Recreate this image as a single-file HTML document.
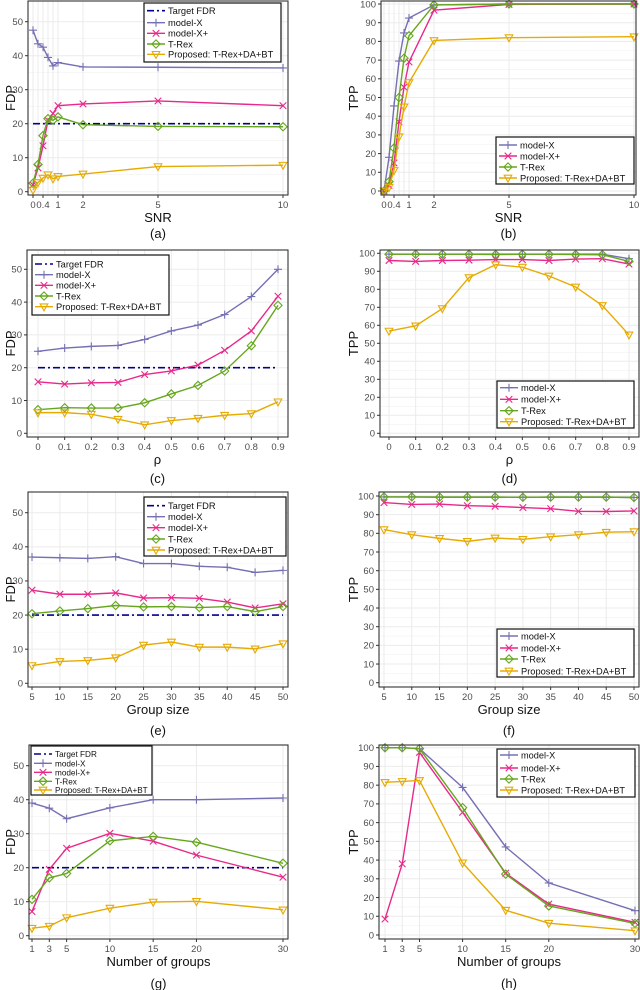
<!DOCTYPE html>
<html><head><meta charset="utf-8">
<style>
html,body{margin:0;padding:0;background:#fff;}
svg{display:block;font-family:"Liberation Sans",sans-serif;}
</style></head>
<body>
<svg id="fig" width="640" height="990" viewBox="0 0 640 990" xmlns="http://www.w3.org/2000/svg"></svg>
<script>
// ---- data ----
const snr = [0, 0.2, 0.4, 0.6, 0.8, 1, 2, 5, 10];
const aModelX = [47.5, 43.5, 42.5, 39.5, 37, 38, 36.7, 36.6, 36.4];
const aModelXp = [2, 7, 13.5, 21, 23, 25.3, 25.8, 26.7, 25.3];
const aTRex = [2.5, 8, 16.5, 21.5, 21, 22, 19.7, 19.2, 19.1];
const aProp = [0.5, 2.7, 4, 5, 3.8, 4.5, 5.2, 7.4, 7.8];
const bModelX = [0, 18, 45.5, 69.5, 84.5, 92.5, 99.5, 100, 100];
const bModelXp = [0, 3, 15, 37, 55.5, 69, 96.7, 99.8, 100];
const bTRex = [0, 5, 23, 50, 71, 83, 99.5, 100, 100];
const bProp = [0, 2, 11, 29, 45, 58, 80.5, 82, 82.5];
const rho = [0, 0.1, 0.2, 0.3, 0.4, 0.5, 0.6, 0.7, 0.8, 0.9];
const cModelX = [25, 26, 26.5, 26.8, 28.6, 31.2, 33, 36.2, 41.7, 50];
const cModelXp = [15.7, 15, 15.4, 15.5, 17.9, 19, 20.8, 25.3, 31.2, 41.8];
const cTRex = [7.2, 7.8, 7.7, 7.7, 9.3, 12, 14.6, 19, 26.7, 39];
const cProp = [6.3, 6.3, 5.8, 4.3, 2.6, 3.9, 4.6, 5.5, 6, 9.6];
const dModelX = [99.5, 99.5, 99.5, 99.5, 99.5, 99.5, 99.5, 99.5, 99.5, 97];
const dModelXp = [96, 95.5, 96, 96.2, 96.5, 96.5, 96, 96.8, 97, 94];
const dTRex = [99.5, 99.5, 99.5, 99.5, 99.3, 99.5, 99.5, 99.3, 99.2, 95.5];
const dProp = [56.8, 59.7, 69.3, 86.5, 93.7, 92.3, 87.4, 81.3, 71, 54.7];
const gsize = [5, 10, 15, 20, 25, 30, 35, 40, 45, 50];
const eModelX = [37, 36.8, 36.6, 37.1, 35.1, 35.1, 34.3, 34, 32.5, 33.1];
const eModelXp = [27.3, 26.1, 26.1, 26.5, 25, 25.1, 24.9, 23.8, 22.1, 23.3];
const eTRex = [20.4, 21.2, 21.9, 22.8, 22.4, 22.5, 22.2, 22.5, 21, 22.5];
const eProp = [5.2, 6.4, 6.7, 7.5, 11.2, 12.1, 10.6, 10.6, 10.1, 11.6];
const fModelX = [99.5, 99.5, 99.4, 99.4, 99.4, 99.3, 99.4, 99.4, 99.4, 99.2];
const fModelXp = [96.5, 95.5, 95.7, 94.8, 94.5, 93.8, 93.2, 91.8, 91.7, 92];
const fTRex = [99.5, 99.5, 99.4, 99.4, 99.4, 99.3, 99.4, 99.4, 99.4, 99.2];
const fProp = [82, 79.3, 77.3, 75.7, 77.5, 76.8, 78.2, 79.3, 80.6, 80.9];
const ngroups = [1, 3, 5, 10, 15, 20, 30];
const gModelX = [39, 37.5, 34.4, 37.6, 40, 40, 40.5];
const gModelXp = [7.1, 19.5, 25.7, 30.1, 27.8, 23.7, 17.2];
const gTRex = [10.7, 17, 18.3, 27.9, 29.2, 27.5, 21.3];
const gProp = [2.2, 2.8, 5.3, 8.1, 9.9, 10.1, 7.6];
const hModelX = [100, 100, 99.5, 78.8, 47, 27.8, 13];
const hModelXp = [8.5, 38, 97.5, 65.5, 33, 16.5, 6.8];
const hTRex = [100, 100, 99.5, 68, 32.5, 15.5, 6.2];
const hProp = [81.5, 82, 82.5, 38.5, 13.2, 6.3, 2.3];
const targetFDR = 20;
const fdpTicks = [0, 10, 20, 30, 40, 50];
const tppTicks = [0, 10, 20, 30, 40, 50, 60, 70, 80, 90, 100];
const snrTicks = [0, 0.4, 1, 2, 5, 10];
const snrTickLabels = ["0", "0.4", "1", "2", "5", "10"];
const rhoTicks = [0, 0.1, 0.2, 0.3, 0.4, 0.5, 0.6, 0.7, 0.8, 0.9];
const gsizeTicks = [5, 10, 15, 20, 25, 30, 35, 40, 45, 50];
const ngroupTicks = [1, 3, 5, 10, 15, 20, 30];
const seriesNames = ["model-X", "model-X+", "T-Rex", "Proposed: T-Rex+DA+BT"];

const COL = ["#7570b3", "#e7298a", "#66a61e", "#e6ab02"];
const NAVY = "#00008b";
const NS = "http://www.w3.org/2000/svg";
const svg = document.getElementById("fig");
function mk(tag, attrs, parent) {
  const e = document.createElementNS(NS, tag);
  for (const k in attrs) e.setAttribute(k, attrs[k]);
  (parent || svg).appendChild(e);
  return e;
}

const panels = [
  {id:"a", box:[28,1,288,195], xm:[0,33,10,283], ym:[0,191.7,50,21.7], x:snr, s:[aModelX,aModelXp,aTRex,aProp], xt:snrTicks, xtl:snrTickLabels, yt:fdpTicks, xTitle:"SNR", yTitle:"FDP", yTx:15, cap:233, target:true,
   leg:{l:144,t:3,r:281,b:62,rows:[10.7,22.7,33.3,44,54.3],fs:9.3}},
  {id:"b", box:[381,1,636,195], xm:[0,384,10,634], ym:[0,191,100,4], x:snr, s:[bModelX,bModelXp,bTRex,bProp], xt:snrTicks, xtl:snrTickLabels, yt:tppTicks, xTitle:"SNR", yTitle:"TPP", yTx:358, cap:233, target:false,
   leg:{l:496,t:137,r:634,b:184,rows:[145,156,167,178],fs:9.3}},
  {id:"c", box:[27,250,288,437], xm:[0,38,0.9,278], ym:[0,433.3,50,269.3], x:rho, s:[cModelX,cModelXp,cTRex,cProp], xt:rhoTicks, xtl:rhoTicks.map(String), yt:fdpTicks, xTitle:"ρ", yTitle:"FDP", yTx:15, cap:478, target:true,
   leg:{l:32,t:255,r:169,b:315,rows:[264,274.7,285.3,296,306.7],fs:9.3}},
  {id:"d", box:[380,250,639,437], xm:[0,389,0.9,629], ym:[0,433.3,100,253.3], x:rho, s:[dModelX,dModelXp,dTRex,dProp], xt:rhoTicks, xtl:rhoTicks.map(String), yt:tppTicks, xTitle:"ρ", yTitle:"TPP", yTx:358, cap:478, target:false,
   leg:{l:497,t:381,r:634,b:428,rows:[387.7,399.3,410.7,421.7],fs:9.3}},
  {id:"e", box:[28,492,288,687], xm:[5,32,50,283], ym:[0,683.3,50,512.7], x:gsize, s:[eModelX,eModelXp,eTRex,eProp], xt:gsizeTicks, xtl:gsizeTicks.map(String), yt:fdpTicks, xTitle:"Group size", yTitle:"FDP", yTx:15, cap:730, target:true,
   leg:{l:144,t:497,r:286,b:556,rows:[505.7,516.7,527.7,539,550],fs:9.3}},
  {id:"f", box:[379,492,639,687], xm:[5,384,50,634], ym:[0,682.7,100,496], x:gsize, s:[fModelX,fModelXp,fTRex,fProp], xt:gsizeTicks, xtl:gsizeTicks.map(String), yt:tppTicks, xTitle:"Group size", yTitle:"TPP", yTx:358, cap:730, target:false,
   leg:{l:497,t:629,r:634,b:677,rows:[636,648,659,671],fs:9.3}},
  {id:"g", box:[29,745,288,939], xm:[1,32,30,283], ym:[0,935.7,50,765.7], x:ngroups, s:[gModelX,gModelXp,gTRex,gProp], xt:ngroupTicks, xtl:ngroupTicks.map(String), yt:fdpTicks, xTitle:"Number of groups", yTitle:"FDP", yTx:15, cap:983, target:true,
   leg:{l:31,t:746,r:152,b:795,rows:[754,763.3,772.3,781.3,790],fs:8.2}},
  {id:"h", box:[379,745,639,939], xm:[1,385,30,635], ym:[0,935,100,747.7], x:ngroups, s:[hModelX,hModelXp,hTRex,hProp], xt:ngroupTicks, xtl:ngroupTicks.map(String), yt:tppTicks, xTitle:"Number of groups", yTitle:"TPP", yTx:358, cap:983, target:false,
   leg:{l:497,t:749,r:635,b:797,rows:[755,768,779,790],fs:9.2}},
];

function marker(g, k, x, y, c, sz) {
  const s = sz || 3.3;
  if (k === 0) {
    mk("path", {d:`M${x-s-0.7},${y}H${x+s+0.7}M${x},${y-s-0.7}V${y+s+0.7}`, stroke:c, "stroke-width":1.1, fill:"none"}, g);
  } else if (k === 1) {
    mk("path", {d:`M${x-s},${y-s}L${x+s},${y+s}M${x-s},${y+s}L${x+s},${y-s}`, stroke:c, "stroke-width":1.1, fill:"none"}, g);
  } else if (k === 2) {
    mk("path", {d:`M${x},${y-s-0.8}L${x+s+0.8},${y}L${x},${y+s+0.8}L${x-s-0.8},${y}Z`, stroke:c, "stroke-width":1.1, fill:"none"}, g);
  } else {
    mk("path", {d:`M${x-s-0.5},${y-s+0.5}L${x+s+0.5},${y-s+0.5}L${x},${y+s+0.8}Z`, stroke:c, "stroke-width":1.1, fill:"none"}, g);
  }
}

panels.forEach(p => {
  const [l,t,r,b] = p.box;
  const X = v => p.xm[1] + (v - p.xm[0]) * (p.xm[3] - p.xm[1]) / (p.xm[2] - p.xm[0]);
  const Y = v => p.ym[1] + (v - p.ym[0]) * (p.ym[3] - p.ym[1]) / (p.ym[2] - p.ym[0]);
  const g = mk("g", {});
  
  
  mk("rect", {x:l, y:t, width:r-l, height:b-t, fill:"#fff"}, g);
  for (let i = 0; i < p.yt.length - 1; i++) {
    const yy = Y((p.yt[i] + p.yt[i+1]) / 2);
    mk("line", {x1:l, x2:r, y1:yy, y2:yy, stroke:"#f2f2f2", "stroke-width":0.6}, g);
  }
  p.yt.forEach(v => mk("line", {x1:l, x2:r, y1:Y(v), y2:Y(v), stroke:"#ebebeb", "stroke-width":1}, g));
  p.x.forEach(v => mk("line", {x1:X(v), x2:X(v), y1:t, y2:b, stroke:"#ebebeb", "stroke-width":1}, g));
  p.yt.forEach(v => {
    mk("line", {x1:l-3, x2:l, y1:Y(v), y2:Y(v), stroke:"#333", "stroke-width":1}, g);
    const tx = mk("text", {x:l-5, y:Y(v)+3.3, "text-anchor":"end", "font-size":9.5, fill:"#4d4d4d"}, g);
    
    
    tx.textContent = v;
  });
  p.xt.forEach((v, i) => {
    mk("line", {x1:X(v), x2:X(v), y1:b, y2:b+3, stroke:"#333", "stroke-width":1}, g);
    const tx = mk("text", {x:X(v), y:b+13, "text-anchor":"middle", "font-size":9.5, fill:"#4d4d4d"}, g);
    
    
    tx.textContent = p.xtl[i];
  });
  if (p.target) {
    const tl = mk("line", {x1:X(p.x[0]), x2:X(p.x[p.x.length-1]), y1:Y(targetFDR), y2:Y(targetFDR), stroke:NAVY, "stroke-width":1.6, "stroke-dasharray":"7,3,2,3"}, g);
    
    
  }
  p.s.forEach((arr, k) => {
    const sg = mk("g", {}, g);
    
    
    const pts = arr.map((v, i) => X(p.x[i]) + "," + Y(v)).join(" ");
    mk("polyline", {points:pts, fill:"none", stroke:COL[k], "stroke-width":1.4}, sg);
    arr.forEach((v, i) => marker(sg, k, X(p.x[i]), Y(v), COL[k]));
  });
  mk("rect", {x:l, y:t, width:r-l, height:b-t, fill:"none", stroke:"#333", "stroke-width":1.1}, g);
  const xt = mk("text", {x:(l+r)/2, y:b+27, "text-anchor":"middle", "font-size":13, fill:"#111"}, g);
  
  
  xt.textContent = p.xTitle;
  const yx = p.yTx, yy = (t+b)/2;
  const yt = mk("text", {x:yx, y:yy, "text-anchor":"middle", "font-size":13, fill:"#111", transform:`rotate(-90 ${yx} ${yy})`}, g);
  
  
  yt.textContent = p.yTitle;
  const cp = mk("text", {x:(l+r)/2, y:p.cap+5, "text-anchor":"middle", "font-size":13, fill:"#111"}, g);
  
  
  cp.textContent = "(" + p.id + ")";
  const L = p.leg;
  const lg = mk("g", {}, g);
  
  
  mk("rect", {x:L.l, y:L.t, width:L.r-L.l, height:L.b-L.t, fill:"#fff", stroke:"#111", "stroke-width":1.2}, lg);
  const labels = p.target ? ["Target FDR"].concat(seriesNames) : seriesNames;
  labels.forEach((lab, i) => {
    const ry = L.rows[i];
    const x0 = L.l + 3, x1 = L.l + 21;
    const eg = mk("g", {}, lg);
    
    
    if (p.target && i === 0) {
      mk("line", {x1:x0, x2:x1, y1:ry, y2:ry, stroke:NAVY, "stroke-width":1.6, "stroke-dasharray":"7,3,2,3"}, eg);
    } else {
      const k = p.target ? i - 1 : i;
      mk("line", {x1:x0, x2:x1, y1:ry, y2:ry, stroke:COL[k], "stroke-width":1.4}, eg);
      marker(eg, k, (x0+x1)/2, ry, COL[k]);
    }
    const tx = mk("text", {x:x1 + 3, y:ry + L.fs*0.36, "font-size":L.fs, fill:"#111"}, eg);
    tx.textContent = lab;
  });
});
</script>
</body></html>
